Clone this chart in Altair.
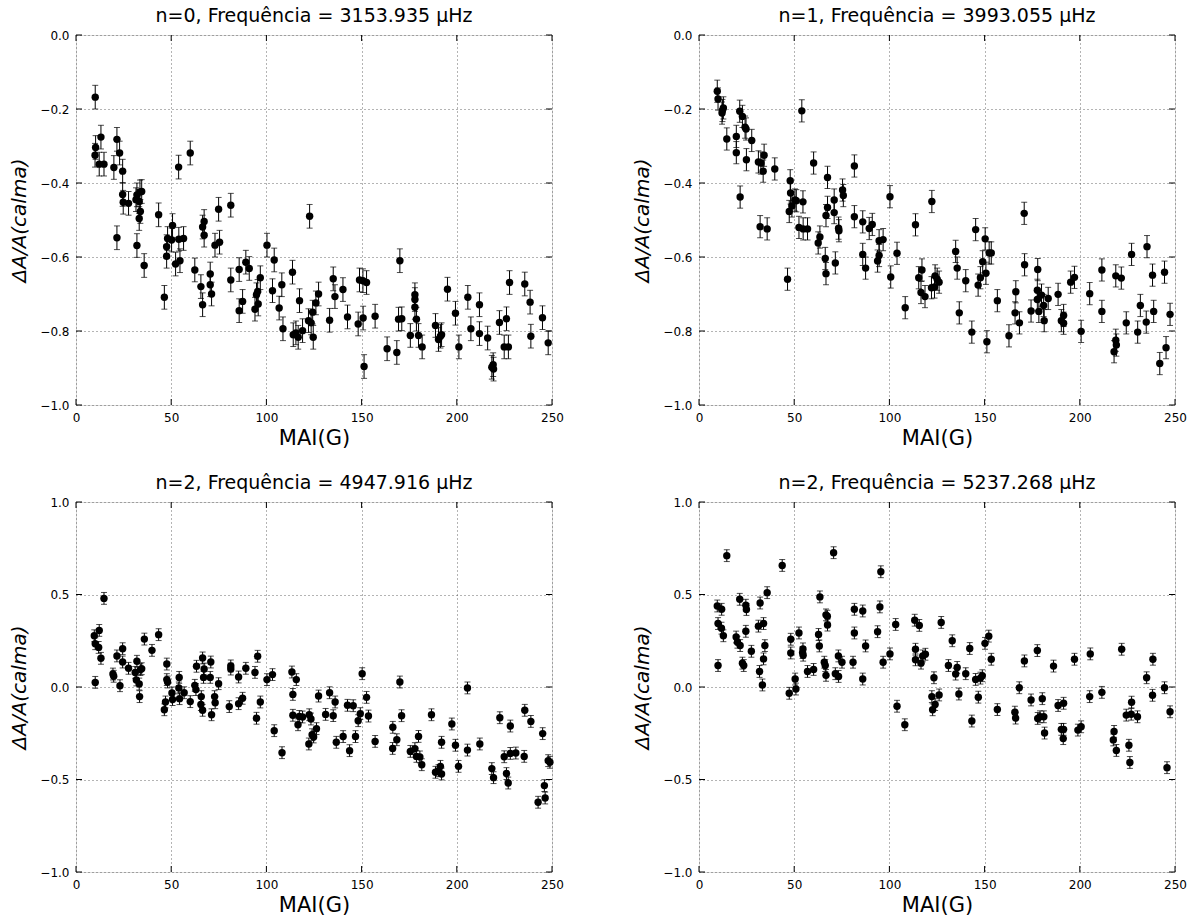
import altair as alt
import pandas as pd

# ---------------- data ----------------
TITLES = [
    "n=0, Frequência = 3153.935 μHz",
    "n=1, Frequência = 3993.055 μHz",
    "n=2, Frequência = 4947.916 μHz",
    "n=2, Frequência = 5237.268 μHz",
]
X_TICKS = [0, 50, 100, 150, 200, 250]
Y_TICKS_TOP = [0.0, -0.2, -0.4, -0.6, -0.8, -1.0]
Y_TICKS_BOTTOM = [1.0, 0.5, 0.0, -0.5, -1.0]
ERR = [0.032, 0.030, 0.032, 0.032]

X0 = [10.1, 13.1, 10.3, 10.0, 12.2, 14.7, 21.5, 22.9, 19.9, 24.5, 24.5, 24.8, 27.6, 21.5, 31.5, 32.0, 33.6, 34.5,
      33.2, 33.8, 33.2, 32.0, 35.8, 43.4, 46.4, 47.6, 48.1, 50.7, 50.2, 47.6, 52.3, 54.0, 56.5, 54.6, 53.9, 60.0,
      62.4, 65.6, 66.5, 66.5, 67.3, 67.3, 70.5, 70.5, 71.2, 73.0, 75.4, 74.9, 81.3, 81.3, 85.7, 85.7, 87.5, 89.2,
      91.0, 94.0, 94.8, 95.4, 95.7, 96.8, 100.3, 103.2, 104.1, 106.7, 108.1, 108.7, 113.7, 114.1, 115.5, 116.7,
      117.4, 119.0, 122.1, 122.7, 123.5, 124.3, 124.6, 126.0, 127.4, 133.2, 135.1, 136.0, 140.2, 142.6, 148.2,
      148.9, 150.7, 152.6, 150.8, 151.3, 157.1, 163.4, 168.5, 169.4, 171.1, 170.1, 175.6, 178.0, 178.0, 178.0,
      178.8, 179.9, 181.8, 188.8, 190.4, 191.4, 192.0, 195.1, 199.3, 201.1, 205.8, 207.4, 211.9, 211.9, 216.2,
      218.4, 219.3, 219.1, 222.4, 224.9, 226.1, 227.1, 227.7, 235.7, 238.5, 238.9, 245.0, 248.0]
Y0 = [-0.168, -0.276, -0.304, -0.325, -0.349, -0.349, -0.282, -0.319, -0.358, -0.368, -0.431, -0.452, -0.455,
      -0.548, -0.445, -0.432, -0.424, -0.423, -0.450, -0.477, -0.496, -0.569, -0.623, -0.486, -0.709, -0.572,
      -0.550, -0.515, -0.554, -0.598, -0.619, -0.552, -0.550, -0.610, -0.357, -0.319, -0.635, -0.680, -0.729,
      -0.519, -0.504, -0.541, -0.646, -0.675, -0.700, -0.568, -0.560, -0.471, -0.460, -0.662, -0.634, -0.745,
      -0.720, -0.614, -0.631, -0.741, -0.702, -0.693, -0.727, -0.656, -0.568, -0.691, -0.608, -0.738, -0.675,
      -0.794, -0.641, -0.810, -0.805, -0.817, -0.718, -0.799, -0.772, -0.490, -0.778, -0.749, -0.817, -0.724,
      -0.700, -0.771, -0.659, -0.707, -0.688, -0.762, -0.781, -0.662, -0.664, -0.669, -0.765, -0.896, -0.760,
      -0.848, -0.858, -0.768, -0.767, -0.610, -0.812, -0.702, -0.715, -0.736, -0.768, -0.812, -0.843, -0.785,
      -0.823, -0.814, -0.810, -0.687, -0.752, -0.843, -0.709, -0.794, -0.729, -0.807, -0.819, -0.898, -0.903,
      -0.891, -0.777, -0.843, -0.767, -0.843, -0.669, -0.673, -0.722, -0.814, -0.764, -0.832]

X1 = [9.6, 10.0, 12.8, 12.3, 12.1, 14.6, 19.6, 19.6, 21.4, 21.6, 22.8, 24.2, 24.7, 24.9, 27.7, 31.2, 32.5, 34.2,
      33.7, 32.1, 35.8, 39.8, 46.5, 47.9, 48.1, 48.8, 47.4, 50.4, 51.1, 54.6, 54.0, 52.5, 54.7, 57.0, 60.2, 62.6,
      63.5, 66.3, 66.7, 66.7, 67.5, 67.5, 71.0, 71.0, 71.6, 73.3, 73.5, 75.4, 75.8, 81.6, 81.6, 86.0, 86.0, 87.5,
      89.4, 91.0, 93.8, 94.6, 94.6, 96.7, 100.3, 100.7, 104.0, 108.3, 113.7, 115.4, 117.1, 116.6, 118.7, 122.3,
      122.1, 123.7, 124.0, 125.1, 126.1, 134.8, 135.6, 136.7, 140.1, 143.3, 145.3, 146.6, 147.8, 149.0, 150.3,
      150.7, 151.2, 152.4, 153.5, 156.7, 162.8, 166.0, 166.4, 168.3, 170.8, 171.0, 174.4, 177.9, 177.7, 177.7,
      178.5, 179.9, 181.0, 181.3, 183.4, 188.6, 190.3, 191.5, 191.5, 195.2, 197.2, 200.7, 205.2, 211.6, 211.6,
      218.9, 218.9, 219.2, 218.0, 221.8, 224.4, 227.2, 230.4, 231.8, 234.9, 235.3, 238.2, 238.8, 242.0, 244.5,
      245.3, 247.4]
Y1 = [-0.152, -0.173, -0.197, -0.204, -0.211, -0.281, -0.274, -0.318, -0.206, -0.438, -0.220, -0.249, -0.254,
      -0.337, -0.285, -0.343, -0.346, -0.325, -0.368, -0.518, -0.524, -0.362, -0.660, -0.394, -0.427, -0.462,
      -0.477, -0.446, -0.448, -0.451, -0.205, -0.520, -0.524, -0.524, -0.346, -0.562, -0.546, -0.604, -0.645,
      -0.488, -0.466, -0.385, -0.480, -0.446, -0.616, -0.522, -0.529, -0.419, -0.434, -0.354, -0.491, -0.505,
      -0.593, -0.630, -0.523, -0.512, -0.611, -0.596, -0.556, -0.553, -0.437, -0.654, -0.590, -0.737, -0.513,
      -0.656, -0.635, -0.696, -0.707, -0.450, -0.683, -0.681, -0.651, -0.660, -0.668, -0.585, -0.630, -0.751,
      -0.664, -0.803, -0.526, -0.676, -0.656, -0.613, -0.551, -0.644, -0.829, -0.589, -0.589, -0.718, -0.813,
      -0.751, -0.694, -0.778, -0.482, -0.621, -0.746, -0.634, -0.690, -0.715, -0.747, -0.703, -0.731, -0.772,
      -0.712, -0.701, -0.772, -0.758, -0.779, -0.668, -0.655, -0.801, -0.699, -0.635, -0.747, -0.651, -0.825,
      -0.838, -0.856, -0.657, -0.778, -0.593, -0.803, -0.731, -0.776, -0.572, -0.649, -0.747, -0.888, -0.641,
      -0.845, -0.755]

X2 = [10.1, 9.6, 10.1, 11.9, 12.2, 13.1, 14.7, 19.4, 19.8, 21.5, 23.1, 24.5, 24.5, 27.6, 31.1, 31.7, 32.0, 33.2,
      33.8, 34.5, 33.4, 35.9, 39.9, 43.4, 46.4, 47.0, 47.7, 47.7, 48.1, 50.4, 50.7, 54.2, 54.0, 54.4, 56.8, 60.0,
      62.4, 63.0, 63.3, 65.8, 65.6, 66.5, 66.5, 67.3, 67.0, 70.5, 70.8, 71.2, 72.8, 73.1, 74.9, 80.5, 81.3, 81.3,
      85.4, 85.4, 87.5, 89.2, 94.0, 95.4, 94.8, 96.8, 100.3, 103.2, 104.1, 108.2, 113.4, 113.9, 115.7, 113.9,
      116.6, 117.3, 119.0, 122.5, 123.4, 122.3, 124.0, 124.8, 126.3, 127.4, 131.1, 133.2, 135.1, 136.1, 136.7,
      140.3, 142.6, 143.7, 145.6, 146.8, 148.2, 149.3, 150.3, 152.6, 153.6, 157.1, 166.4, 166.3, 168.5, 170.1,
      171.0, 175.6, 178.0, 178.8, 179.9, 180.6, 181.6, 186.7, 188.8, 190.4, 191.4, 192.0, 192.0, 197.4, 199.3,
      200.9, 205.6, 205.6, 212.1, 218.4, 219.3, 222.6, 224.9, 226.1, 227.0, 228.1, 228.1, 231.0, 235.4, 235.7,
      238.9, 242.7, 245.1, 246.0, 246.4, 248.0, 248.9]
Y2 = [0.025, 0.277, 0.234, 0.214, 0.306, 0.155, 0.479, 0.070, 0.058, 0.168, 0.007, 0.207, 0.135, 0.101, 0.079,
      0.038, 0.139, 0.016, 0.094, 0.099, -0.052, 0.259, 0.198, 0.283, -0.123, -0.081, 0.124, 0.040, 0.027,
      -0.032, -0.068, 0.052, -0.005, -0.063, -0.031, -0.079, 0.009, -0.014, 0.112, -0.052, -0.095, -0.126,
      0.157, 0.097, 0.052, 0.052, 0.135, -0.150, -0.052, -0.085, 0.018, -0.106, 0.114, 0.097, -0.090, 0.054,
      -0.061, 0.101, 0.079, 0.166, -0.169, -0.081, 0.040, 0.067, -0.236, -0.355, 0.081, -0.040, 0.040, -0.153,
      -0.204, -0.159, -0.162, -0.150, -0.173, -0.308, -0.258, -0.270, -0.225, -0.049, -0.148, -0.031, -0.155,
      -0.081, -0.299, -0.268, -0.099, -0.344, -0.101, -0.268, -0.182, -0.144, 0.072, -0.056, -0.157, -0.294,
      -0.218, -0.332, -0.285, 0.027, -0.155, -0.348, -0.333, -0.375, -0.267, -0.378, -0.420, -0.150, -0.461,
      -0.452, -0.429, -0.470, -0.299, -0.200, -0.315, -0.429, -0.005, -0.341, -0.308, -0.441, -0.490, -0.166,
      -0.377, -0.468, -0.519, -0.211, -0.359, -0.357, -0.375, -0.126, -0.186, -0.623, -0.252, -0.533, -0.600,
      -0.398, -0.407]

X3 = [9.6, 11.9, 10.0, 11.8, 12.8, 10.0, 14.6, 21.4, 24.6, 24.9, 19.5, 20.2, 21.6, 24.6, 22.8, 23.5, 27.5, 32.1,
      31.2, 33.9, 34.6, 33.9, 31.8, 33.3, 35.8, 43.7, 48.2, 48.2, 47.4, 50.5, 50.9, 52.5, 54.6, 54.4, 54.7, 57.0,
      60.2, 63.5, 62.8, 63.2, 66.7, 67.4, 67.5, 65.8, 66.3, 66.7, 70.7, 71.6, 73.2, 73.3, 75.1, 81.6, 81.6, 80.9,
      86.0, 86.0, 87.5, 93.8, 95.0, 95.5, 96.7, 100.3, 103.3, 104.0, 108.1, 113.3, 115.7, 113.7, 113.7, 116.6,
      117.5, 118.9, 122.7, 122.3, 124.0, 126.1, 123.4, 127.2, 131.0, 133.0, 134.8, 135.6, 136.5, 140.1, 142.2,
      143.3, 145.3, 146.7, 147.8, 148.8, 150.2, 152.2, 153.5, 156.7, 165.9, 166.3, 168.2, 170.9, 174.4, 177.7,
      177.9, 179.1, 180.3, 181.1, 181.5, 186.2, 188.6, 190.3, 191.5, 191.3, 191.5, 197.2, 199.0, 200.7, 205.5,
      205.2, 211.6, 218.0, 217.6, 219.2, 222.0, 224.4, 227.2, 227.0, 225.8, 226.3, 230.3, 235.1, 238.2, 238.4,
      244.5, 245.8, 247.4]
Y3 = [0.438, 0.420, 0.343, 0.318, 0.277, 0.116, 0.710, 0.474, 0.442, 0.419, 0.270, 0.242, 0.224, 0.301, 0.129,
      0.116, 0.193, 0.454, 0.329, 0.343, 0.224, 0.152, 0.084, 0.011, 0.510, 0.657, 0.258, 0.184, -0.034, 0.043,
      -0.011, 0.292, 0.206, 0.186, 0.172, 0.084, 0.095, 0.487, 0.284, 0.222, 0.390, 0.383, 0.335, 0.134, 0.116,
      0.063, 0.726, 0.072, 0.168, 0.057, 0.134, 0.420, 0.292, 0.134, 0.411, 0.043, 0.222, 0.299, 0.433, 0.623,
      0.134, 0.179, 0.338, -0.104, -0.204, 0.361, 0.333, 0.204, 0.147, 0.129, 0.168, 0.177, -0.123, -0.052,
      -0.095, -0.043, 0.050, 0.349, 0.116, 0.250, 0.070, 0.106, -0.038, 0.072, 0.208, -0.184, 0.041, -0.055,
      0.048, 0.061, 0.236, 0.275, 0.150, -0.122, -0.136, -0.168, -0.004, 0.141, -0.070, 0.197, -0.170, -0.161,
      -0.063, -0.161, -0.249, 0.113, -0.100, -0.229, -0.229, -0.279, -0.088, 0.150, -0.233, -0.215, 0.179,
      -0.052, -0.029, -0.240, -0.286, -0.343, 0.204, -0.152, -0.082, -0.147, -0.315, -0.408, -0.161, 0.050,
      -0.045, 0.150, -0.004, -0.436, -0.134]

PANELS = [(X0, Y0), (X1, Y1), (X2, Y2), (X3, Y3)]

# ---------------- chart ----------------
W, H = 476, 370
FONT = "DejaVu Sans"


def panel(i):
    xs, ys = PANELS[i]
    err = ERR[i]
    top = i < 2
    ydom = [-1.0, 0.0] if top else [-1.0, 1.0]
    yticks = Y_TICKS_TOP if top else Y_TICKS_BOTTOM
    df = pd.DataFrame({"x": xs, "y": ys})
    df["lo"] = df["y"] - err
    df["hi"] = df["y"] + err

    xscale = alt.Scale(domain=[0, 250], nice=False, zero=False)
    yscale = alt.Scale(domain=ydom, nice=False, zero=False)
    grid_common = dict(grid=True, gridDash=[1, 3], gridColor="#444", gridWidth=1, gridOpacity=0.8,
                       ticks=False, domain=False, labelFont=FONT, labelFontSize=12, labelColor="black",
                       labelFlush=False, labelOverlap=False,
                       titleFont=FONT, titleColor="black", titleFontWeight="normal", labelPadding=7)
    xaxis = alt.Axis(values=X_TICKS, format="d", title="MAI(G)", titleFontSize=21, titlePadding=4,
                     **grid_common)
    yaxis = alt.Axis(values=yticks, format=".1f", title="ΔA/A(calma)", titleFontSize=20,
                     titleFontStyle="italic", titlePadding=10, **grid_common)

    base = alt.Chart(df)
    bars = base.mark_rule(color="black", strokeWidth=1).encode(
        x=alt.X("x:Q", scale=xscale, axis=xaxis),
        y=alt.Y("lo:Q", scale=yscale, axis=yaxis),
        y2="hi:Q",
    )
    cap_lo = base.mark_tick(color="black", orient="horizontal", size=6, thickness=1).encode(
        x="x:Q", y="lo:Q")
    cap_hi = base.mark_tick(color="black", orient="horizontal", size=6, thickness=1).encode(
        x="x:Q", y="hi:Q")
    pts = base.mark_circle(size=55, color="black", opacity=1).encode(x="x:Q", y="y:Q")

    # inward ticks on all four sides (matplotlib classic style)
    tx = pd.DataFrame({"t": X_TICKS})
    ty = pd.DataFrame({"t": yticks})
    xt_b = alt.Chart(tx).mark_rule(color="black").encode(
        x=alt.X("t:Q", scale=xscale), y=alt.value(H), y2=alt.value(H - 6))
    xt_t = alt.Chart(tx).mark_rule(color="black").encode(
        x=alt.X("t:Q", scale=xscale), y=alt.value(0), y2=alt.value(6))
    yt_l = alt.Chart(ty).mark_rule(color="black").encode(
        y=alt.Y("t:Q", scale=yscale), x=alt.value(0), x2=alt.value(6))
    yt_r = alt.Chart(ty).mark_rule(color="black").encode(
        y=alt.Y("t:Q", scale=yscale), x=alt.value(W), x2=alt.value(W - 6))

    return alt.layer(bars, cap_lo, cap_hi, pts, xt_b, xt_t, yt_l, yt_r).properties(
        width=W, height=H,
        title=alt.TitleParams(TITLES[i], fontSize=19, font=FONT, fontWeight="normal",
                              color="black", anchor="middle", offset=3),
    )


row1 = alt.hconcat(panel(0), panel(1), spacing=68)
row2 = alt.hconcat(panel(2), panel(3), spacing=68)
chart = alt.vconcat(row1, row2, spacing=24).properties(
    padding={"left": 9, "top": 6, "right": 5, "bottom": 0}
).configure_view(
    stroke="black", strokeWidth=1.2
).configure(background="white")

chart.save("out.html", embed_options={"renderer": "svg", "actions": False})
